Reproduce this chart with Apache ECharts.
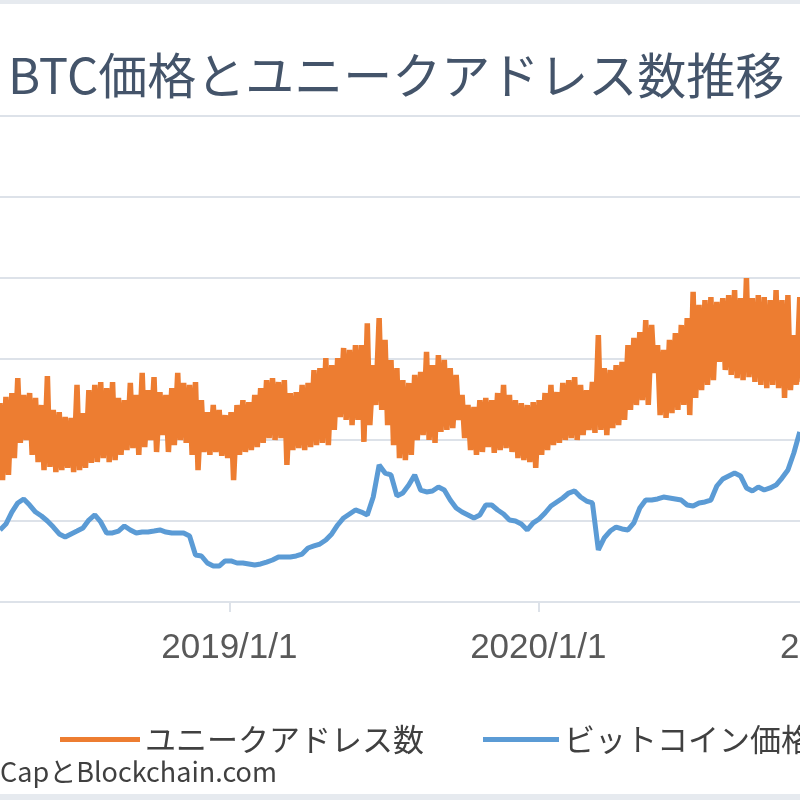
<!DOCTYPE html>
<html>
<head>
<meta charset="utf-8">
<script src="https://cdn.jsdelivr.net/npm/echarts@6/dist/echarts.min.js"></script>
<style>
  html, body { margin: 0; padding: 0; background: #fff; }
  #main { width: 800px; height: 800px; }
</style>
</head>
<body>
<div id="main"></div>
<script>
// 週ごとの値（2018/4/5 から7日おき）
// ユニークアドレス数（千）: 平日の山と週末の谷
var addrHigh = [
  614, 633, 645, 691, 639, 645, 630, 608, 697, 593,
  586, 571, 568, 670, 583, 654, 670, 679, 660, 679,
  630, 623, 676, 639, 707, 654, 694, 648, 639, 660,
  707, 676, 670, 679, 623, 586, 608, 593, 577, 586,
  608, 623, 617, 639, 660, 685, 691, 679, 685, 645,
  648, 670, 676, 716, 722, 753, 731, 753, 784, 778,
  793, 793, 860, 731, 876, 809, 747, 722, 685, 676,
  701, 710, 772, 731, 762, 747, 722, 701, 639, 608,
  602, 623, 630, 623, 645, 670, 639, 623, 614, 608,
  617, 623, 645, 670, 648, 676, 685, 694, 670, 654,
  679, 824, 722, 716, 731, 741, 793, 815, 833, 870,
  855, 793, 778, 809, 830, 855, 876, 957, 917, 932,
  941, 926, 938, 947, 963, 938, 1000, 938, 947, 941,
  932, 963, 932, 947, 824, 941
];
var addrLow = [
  376, 392, 444, 491, 500, 454, 432, 407, 417, 401,
  407, 414, 401, 407, 414, 429, 432, 444, 432, 438,
  454, 469, 475, 454, 478, 500, 463, 515, 463, 484,
  500, 491, 454, 407, 463, 454, 463, 451, 444, 376,
  454, 463, 469, 478, 491, 506, 500, 506, 423, 469,
  475, 469, 478, 484, 491, 484, 531, 571, 562, 546,
  562, 494, 546, 608, 593, 546, 484, 444, 438, 454,
  500, 515, 500, 491, 525, 531, 537, 562, 506, 469,
  454, 463, 478, 460, 469, 475, 463, 444, 438, 432,
  414, 454, 469, 484, 491, 500, 506, 500, 515, 531,
  522, 531, 515, 537, 546, 562, 593, 608, 623, 608,
  707, 577, 568, 583, 593, 608, 577, 630, 654, 670,
  685, 741, 716, 701, 691, 685, 694, 679, 670, 660,
  670, 660, 630, 654, 670, 679
];
// ビットコイン価格（ドル）
var btcPrice = [
  6670, 7220, 8330, 9170, 9540, 8980, 8330, 7960, 7500, 6940,
  6300, 6020, 6300, 6570, 6850, 7590, 8060, 7410, 6390, 6390,
  6570, 7040, 6670, 6390, 6480, 6480, 6570, 6670, 6480, 6390,
  6390, 6390, 6110, 4350, 4260, 3610, 3330, 3330, 3800, 3800,
  3610, 3610, 3520, 3430, 3520, 3700, 3890, 4170, 4170, 4170,
  4260, 4440, 5000, 5190, 5370, 5740, 6300, 7130, 7780, 8150,
  8520, 8330, 8060, 9720, 12690, 11940, 11760, 9820, 10090, 10830,
  11760, 10370, 10190, 10280, 10650, 10370, 9440, 8700, 8330, 8060,
  7780, 8060, 8980, 8980, 8520, 8150, 7590, 7500, 7220, 6670,
  7320, 7690, 8240, 8890, 9260, 9630, 10090, 10280, 9720, 9350,
  9170, 4820, 5930, 6570, 6940, 6760, 6670, 7320, 8700, 9440,
  9440, 9540, 9720, 9630, 9540, 9440, 8980, 8890, 9170, 9260,
  9440, 10740, 11390, 11670, 11940, 11670, 10560, 10280, 10650, 10370,
  10560, 10830, 11480, 12220, 13800, 15740
];
var seriesNames = ['ユニークアドレス数', 'ビットコイン価格'];

// 日付カテゴリ
var days = [];
var d = new Date(2018, 3, 5);
var end = new Date(2021, 0, 1);
while (d <= end) {
  days.push(d.getFullYear() + '/' + (d.getMonth() + 1) + '/' + d.getDate());
  d.setDate(d.getDate() + 1);
}
function isNewYear(i, v) { return /\/1\/1$/.test(v); }

// 山(木曜)と谷(日曜)を交互に
var addrData = [];
var btcData = [];
for (var k = 0; k < addrHigh.length; k++) {
  addrData.push([7 * k, addrHigh[k]]);
  addrData.push([7 * k + 3, addrLow[k]]);
  btcData.push([7 * k, btcPrice[k]]);
}

var gridColor = '#DDE2E9';
var legendText = {
  fontFamily: 'Noto Sans CJK JP',
  fontSize: 31,
  color: '#404040'
};
var myChart = echarts.init(document.getElementById('main'));
var option = {
  animation: false,
  backgroundColor: '#fff',
  title: {
    text: 'BTC価格とユニークアドレス数推移',
    left: 3,
    top: 46,
    textStyle: {
      fontFamily: 'Noto Sans CJK JP',
      fontSize: 49,
      fontWeight: 'normal',
      color: '#44546A'
    }
  },
  legend: [{
    data: [seriesNames[0]],
    left: 55,
    top: 719,
    icon: 'rect',
    itemWidth: 80,
    itemHeight: 5,
    textStyle: legendText
  }, {
    data: [seriesNames[1]],
    left: 478,
    top: 719,
    icon: 'rect',
    itemWidth: 76,
    itemHeight: 5,
    textStyle: legendText
  }],
  grid: {
    left: 0,
    right: -48,
    top: 116,
    bottom: 198,
    containLabel: false,
    outerBoundsMode: 'none'
  },
  xAxis: {
    type: 'category',
    data: days,
    boundaryGap: false,
    axisLine: { lineStyle: { color: gridColor, width: 2 } },
    axisTick: {
      show: true,
      interval: isNewYear,
      length: 10,
      lineStyle: { color: gridColor, width: 2 }
    },
    axisLabel: {
      interval: isNewYear,
      margin: 29,
      fontFamily: 'Liberation Sans',
      fontSize: 35,
      color: '#595959'
    },
    splitLine: { show: false }
  },
  yAxis: [{
    type: 'value',
    min: 0,
    max: 1500,
    interval: 250,
    axisLabel: { show: false },
    axisLine: { show: false },
    axisTick: { show: false },
    splitLine: { lineStyle: { color: gridColor, width: 2 } }
  }, {
    type: 'value',
    min: 0,
    max: 45000,
    interval: 7500,
    axisLabel: { show: false },
    axisLine: { show: false },
    axisTick: { show: false },
    splitLine: { show: false }
  }],
  graphic: [
    { type: 'rect', left: 0, top: 0, shape: { width: 800, height: 4 }, style: { fill: '#E6EAEF' } },
    { type: 'rect', left: 0, top: 794, shape: { width: 800, height: 6 }, style: { fill: '#E6EAEF' } },
    {
      type: 'text',
      left: 0,
      top: 758,
      style: {
        text: 'CapとBlockchain.com',
        fontFamily: 'Noto Sans CJK JP',
        fontSize: 27,
        fill: '#404040'
      }
    }
  ],
  series: [{
    name: seriesNames[0],
    type: 'line',
    yAxisIndex: 0,
    data: addrData,
    symbol: 'none',
    lineStyle: { color: '#ED7D31', width: 5.5 },
    itemStyle: { color: '#ED7D31' }
  }, {
    name: seriesNames[1],
    type: 'line',
    yAxisIndex: 1,
    data: btcData,
    symbol: 'none',
    lineStyle: { color: '#5B9BD5', width: 5 },
    itemStyle: { color: '#5B9BD5' }
  }]
};
myChart.setOption(option);
</script>
</body>
</html>
